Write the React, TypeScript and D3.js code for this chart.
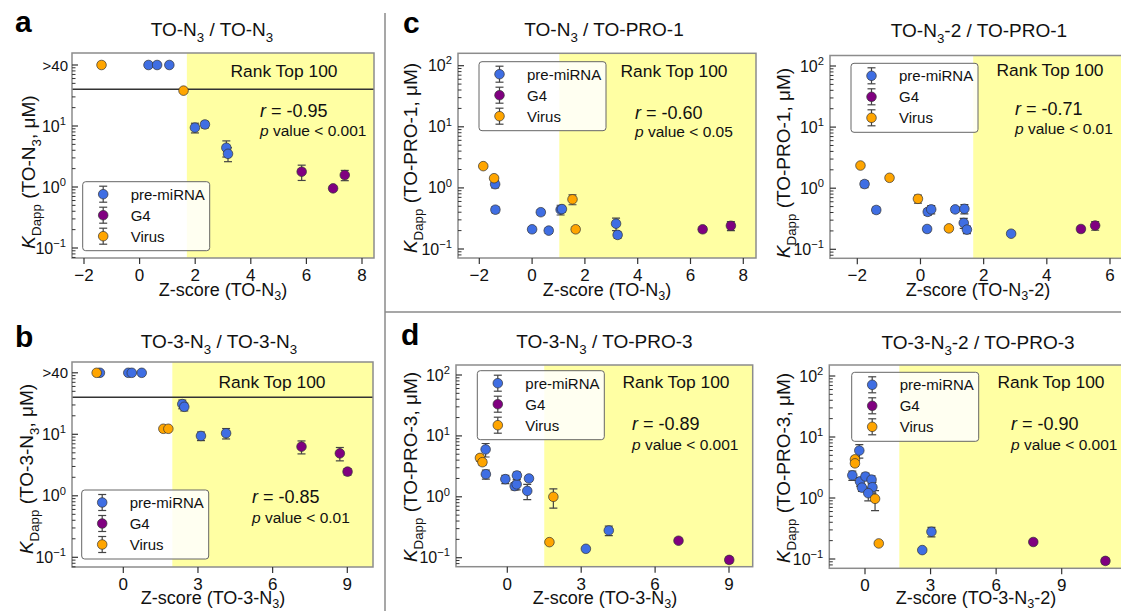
import React, { useRef, useEffect } from "react";
import * as d3 from "d3";

const W = 1121;
const H = 611;
const FONT = "'Liberation Sans', Arial, sans-serif";

const categories = ["pre-miRNA", "G4", "Virus"];
const colors = ["#3f6ee3", "#800080", "#ffa500"];

// [Z-score, KDapp (µM), error]; 100 stands for ">40"
const aPre = [[0.32, 100, 0], [0.63, 100, 0], [1.07, 100, 0], [1.99, 9.4, 1.7], [2.35, 10.6, 1.3], [3.12, 4.4, 1.3], [3.18, 3.5, 0.9]];
const aG4 = [[5.83, 1.78, 0.5], [6.96, 0.95, 0.08], [7.38, 1.57, 0.3]];
const aVirus = [[-1.37, 100, 0], [1.58, 38, 0]];

const bPre = [[-0.94, 100, 0], [0.2, 100, 0], [0.34, 100, 0], [0.74, 100, 0], [2.37, 31, 5], [2.45, 28, 4], [3.12, 9.4, 1.5], [4.13, 10.4, 2]];
const bG4 = [[7.16, 6.3, 1.5], [8.7, 4.9, 1.2], [9.01, 2.47, 0.3]];
const bVirus = [[-1.07, 100, 0], [1.61, 12.3, 0], [1.81, 12.3, 0]];

const cPre = [[-1.4, 1.15, 0.15], [-1.39, 0.44, 0.05], [0, 0.21, 0.02], [0.33, 0.4, 0.04], [0.63, 0.2, 0.02], [1.08, 0.44, 0.08], [1.13, 0.45, 0.05], [3.18, 0.26, 0.06], [3.24, 0.17, 0.02]];
const cG4 = [[6.46, 0.21, 0.02], [7.53, 0.24, 0.04]];
const cVirus = [[-1.85, 2.27, 0.15], [-1.44, 1.44, 0.1], [1.53, 0.65, 0.12], [1.65, 0.21, 0.02]];

const ePre = [[-1.77, 1.17, 0.15], [-1.4, 0.44, 0.05], [0.23, 0.41, 0.05], [0.34, 0.45, 0.07], [0.21, 0.215, 0.02], [1.1, 0.45, 0.05], [1.39, 0.46, 0.08], [1.37, 0.27, 0.05], [1.47, 0.21, 0.03], [2.87, 0.18, 0.01]];
const eG4 = [[5.08, 0.215, 0.02], [5.53, 0.245, 0.04]];
const eVirus = [[-1.9, 2.35, 0.15], [-0.98, 1.48, 0.1], [-0.08, 0.67, 0.1], [0.9, 0.22, 0.02]];

const dPre = [[-0.88, 6.0, 1.5], [-0.87, 2.35, 0.4], [-0.08, 1.95, 0.3], [0.3, 1.5, 0.2], [0.38, 1.6, 0.3], [0.39, 2.24, 0.3], [0.88, 2.0, 0.2], [0.81, 1.25, 0.35], [3.19, 0.14, 0.01], [4.12, 0.28, 0.05]];
const dG4 = [[6.95, 0.19, 0.01], [9.01, 0.092, 0.01]];
const dVirus = [[-1.11, 4.35, 0.5], [-1.01, 3.7, 0.4], [1.87, 1.0, 0.35], [1.71, 0.18, 0.01]];

const fPre = [[-0.26, 6.0, 1.5], [-0.58, 2.35, 0.4], [-0.23, 1.87, 0.3], [-0.14, 1.48, 0.2], [0.02, 2.25, 0.3], [0.3, 2.0, 0.3], [0.34, 1.5, 0.3], [0.15, 1.2, 0.3], [2.62, 0.14, 0.01], [3.04, 0.28, 0.05]];
const fG4 = [[7.7, 0.19, 0.01], [11.0, 0.093, 0.01]];
const fVirus = [[-0.46, 4.3, 0.5], [-0.46, 3.7, 0.4], [0.46, 0.97, 0.35], [0.63, 0.18, 0.01]];

const ticksEven = [-2, 0, 2, 4, 6, 8];
const ticksE = [-2, 0, 2, 4, 6];
const ticks3 = [0, 3, 6, 9];

// layout: plot box, two x anchors, two y anchors
const panels = [
  { letter: "a", lp: [15, 32], title: "TO-N_3 / TO-N_3", tp: [212, 36], box: [72, 374, 53, 258],
    xa: [-2, 8, 84, 362], ya: [0.1, 10, 248, 126], xticks: ticksEven, cut: 40, zone: 1.7,
    xlab: "Z-score (TO-N_3)", xlp: [223, 296], ylab: "*K*_{Dapp} (TO-N_3, μM)", ylp: [35, 172],
    leg: [82.7, 181.7], rank: [284, 77], rp: [260, 117, 136], r: "-0.95", p: "0.001", data: [aPre, aG4, aVirus] },
  { letter: "b", lp: [15, 347], title: "TO-3-N_3 / TO-3-N_3", tp: [219, 348], box: [72, 373, 362, 567],
    xa: [0, 9, 123.3, 347.3], ya: [0.1, 10, 557.3, 434.3], xticks: ticks3, cut: 40, zone: 1.97,
    xlab: "Z-score (TO-3-N_3)", xlp: [213, 604], ylab: "*K*_{Dapp} (TO-3-N_3, μM)", ylp: [33, 469],
    leg: [81.7, 490], rank: [272, 388], rp: [252, 503, 523], r: "-0.85", p: "0.01", data: [bPre, bG4, bVirus] },
  { letter: "c", lp: [403, 33], title: "TO-N_3 / TO-PRO-1", tp: [604, 36], box: [458, 756, 53.3, 258],
    xa: [-2, 8, 479.3, 743.3], ya: [0.1, 100, 249, 65.7], xticks: ticksEven, cut: 0, zone: 1.03,
    xlab: "Z-score (TO-N_3)", xlp: [607, 296], ylab: "*K*_{Dapp} (TO-PRO-1, μM)", ylp: [417, 158],
    leg: [479, 61.7], rank: [674, 77], rp: [635, 119, 137], r: "-0.60", p: "0.05", data: [cPre, cG4, cVirus] },
  { letter: "", lp: [0, 0], title: "TO-N_3-2 / TO-PRO-1", tp: [979, 37], box: [830, 1125, 55.5, 258.3],
    xa: [-2, 6, 857.3, 1110], ya: [0.1, 100, 249.3, 66], xticks: ticksE, cut: 0, zone: 1.67,
    xlab: "Z-score (TO-N_3-2)", xlp: [978, 296], ylab: "*K*_{Dapp} (TO-PRO-1, μM)", ylp: [790, 163],
    leg: [851, 63.3], rank: [1050, 76], rp: [1015, 115, 134], r: "-0.71", p: "0.01", data: [ePre, eG4, eVirus] },
  { letter: "d", lp: [401, 345], title: "TO-3-N_3 / TO-PRO-3", tp: [604.5, 348], box: [456, 752.7, 365, 566.7],
    xa: [0, 9, 507.3, 729], ya: [0.1, 100, 557.7, 375], xticks: ticks3, cut: 0, zone: 1.5,
    xlab: "Z-score (TO-3-N_3)", xlp: [605, 604], ylab: "*K*_{Dapp} (TO-PRO-3, μM)", ylp: [417, 467],
    leg: [477.3, 370.7], rank: [676, 388], rp: [632, 430, 450], r: "-0.89", p: "0.001", data: [dPre, dG4, dVirus] },
  { letter: "", lp: [0, 0], title: "TO-3-N_3-2 / TO-PRO-3", tp: [978, 349], box: [829.3, 1125, 365, 568.3],
    xa: [0, 9, 865, 1061.7], ya: [0.1, 100, 559, 376], xticks: ticks3, cut: 0, zone: 1.57,
    xlab: "Z-score (TO-3-N_3-2)", xlp: [976, 604], ylab: "*K*_{Dapp} (TO-PRO-3, μM)", ylp: [790, 468],
    leg: [851.7, 372.3], rank: [1051, 388], rp: [1011, 430, 450], r: "-0.90", p: "0.001", data: [fPre, fG4, fVirus] },
];

type Seg = { t: string; sub?: boolean; sup?: boolean; it?: boolean };

// "_x" / "_{xy}" subscript, "^x" superscript, "*x*" italic
function parse(s: string): Seg[] {
  const out: Seg[] = [];
  let buf = "";
  let it = false;
  const flush = () => { if (buf) out.push({ t: buf, it }); buf = ""; };
  for (let i = 0; i < s.length; i++) {
    const ch = s[i];
    if (ch === "*") { flush(); it = !it; continue; }
    if (ch === "_" || ch === "^") {
      flush();
      let t = "";
      if (s[i + 1] === "{") {
        const j = s.indexOf("}", i);
        t = s.slice(i + 2, j);
        i = j;
      } else {
        t = s[i + 1];
        i++;
      }
      out.push(ch === "_" ? { t, sub: true } : { t, sup: true });
      continue;
    }
    buf += ch;
  }
  flush();
  return out;
}

function rich(text: any, str: string, fs: number, subShift = 0.3) {
  let shift = 0;
  for (const seg of parse(str)) {
    const want = seg.sub ? fs * subShift : seg.sup ? -fs * 0.42 : 0;
    const ts = text.append("tspan").text(seg.t).attr("dy", want - shift);
    if (seg.sub || seg.sup) ts.attr("font-size", fs * 0.7);
    if (seg.it) ts.attr("font-style", "italic");
    shift = want;
  }
}

export default function App() {
  const svgRef = useRef<SVGSVGElement>(null);

  useEffect(() => {
    const svg = d3.select(svgRef.current);
    svg.selectAll("*").remove();
    svg.append("rect").attr("width", W).attr("height", H).attr("fill", "#fff");

    // panel dividers
    svg.append("line").attr("x1", 385).attr("x2", 385).attr("y1", 13).attr("y2", H)
      .attr("stroke", "#8a8a8a").attr("stroke-width", 1.5);
    svg.append("line").attr("x1", 385).attr("x2", W).attr("y1", 312).attr("y2", 312)
      .attr("stroke", "#8a8a8a").attr("stroke-width", 1.5);

    panels.forEach((p, pi) => {
      const [x0, x1, y0, y1] = p.box;
      const g = svg.append("g").attr("font-family", FONT);
      const clipId = "clip" + pi;
      g.append("clipPath").attr("id", clipId).append("rect")
        .attr("x", x0).attr("y", y0).attr("width", x1 - x0).attr("height", y1 - y0);

      const x = d3.scaleLinear().domain([p.xa[0], p.xa[1]]).range([p.xa[2], p.xa[3]]);
      const y = d3.scaleLog().domain([p.ya[0], p.ya[1]]).range([p.ya[2], p.ya[3]]);

      const plot = g.append("g").attr("clip-path", `url(#${clipId})`);
      plot.append("rect").attr("x", x0).attr("y", y0).attr("width", x1 - x0).attr("height", y1 - y0).attr("fill", "#fff");
      plot.append("rect").attr("x", x(p.zone)).attr("y", y0).attr("width", x1 - x(p.zone)).attr("height", y1 - y0)
        .attr("fill", "#ffffa3");
      if (p.cut) {
        plot.append("line").attr("x1", x0).attr("x2", x1).attr("y1", y(p.cut)).attr("y2", y(p.cut))
          .attr("stroke", "#333").attr("stroke-width", 1.4);
      }

      // error bars then points
      p.data.forEach((series) => {
        series.forEach(([vx, vy, e]) => {
          if (!e) return;
          const cx = x(vx);
          const top = y(vy + e);
          const bot = y(Math.max(vy - e, 1e-3));
          const eb = plot.append("g").attr("stroke", "#444").attr("stroke-width", 1.2);
          eb.append("line").attr("x1", cx).attr("x2", cx).attr("y1", top).attr("y2", bot);
          eb.append("line").attr("x1", cx - 4).attr("x2", cx + 4).attr("y1", top).attr("y2", top);
          eb.append("line").attr("x1", cx - 4).attr("x2", cx + 4).attr("y1", bot).attr("y2", bot);
        });
      });
      p.data.forEach((series, si) => {
        plot.selectAll(null).data(series).enter().append("circle")
          .attr("cx", (d) => x(d[0])).attr("cy", (d) => y(d[1])).attr("r", 4.8)
          .attr("fill", colors[si]).attr("stroke", "#333").attr("stroke-width", 0.7);
      });

      // frame
      g.append("rect").attr("x", x0).attr("y", y0).attr("width", x1 - x0).attr("height", y1 - y0)
        .attr("fill", "none").attr("stroke", "#8c8c8c").attr("stroke-width", 1.5);

      // x axis ticks
      p.xticks.forEach((t) => {
        const tx = x(t);
        g.append("line").attr("x1", tx).attr("x2", tx).attr("y1", y1).attr("y2", y1 + 6)
          .attr("stroke", "#333").attr("stroke-width", 1.2);
        g.append("text").attr("x", tx).attr("y", y1 + 23).attr("text-anchor", "middle")
          .attr("font-size", 17).attr("fill", "#111").text(t < 0 ? "\u2212" + Math.abs(t) : String(t));
      });

      // y axis ticks (log)
      const [lo, hi] = [y.invert(y1), y.invert(y0)];
      const majors = [0.1, 1, 10, 100].filter((v) => v >= lo && v <= hi && (!p.cut || v < p.cut));
      const minors: number[] = [];
      for (let k = -2; k <= 2; k++) {
        for (let m = 2; m <= 9; m++) {
          const v = m * Math.pow(10, k);
          if (v < lo || v > hi) continue;
          if (p.cut && v > p.cut * 0.8 && v < 50) continue;
          minors.push(v);
        }
      }
      minors.forEach((v) => {
        g.append("line").attr("x1", x0).attr("x2", x0 + 3.5).attr("y1", y(v)).attr("y2", y(v))
          .attr("stroke", "#333").attr("stroke-width", 1);
      });
      majors.forEach((v) => {
        const ty = y(v);
        g.append("line").attr("x1", x0).attr("x2", x0 + 6).attr("y1", ty).attr("y2", ty)
          .attr("stroke", "#333").attr("stroke-width", 1.2);
        const e = Math.round(Math.log10(v));
        const lab = g.append("text").attr("x", x0 - 6).attr("y", ty + 5.5).attr("text-anchor", "end")
          .attr("font-size", 16).attr("fill", "#111");
        rich(lab, "10^{" + (e < 0 ? "\u2212" + Math.abs(e) : e) + "}", 16);
      });
      if (p.cut) {
        const ty = y(100);
        g.append("line").attr("x1", x0).attr("x2", x0 + 6).attr("y1", ty).attr("y2", ty)
          .attr("stroke", "#333").attr("stroke-width", 1.2);
        g.append("text").attr("x", x0 - 4).attr("y", ty + 5.5).attr("text-anchor", "end")
          .attr("font-size", 15).attr("fill", "#111").text(">40");
      }

      // legend
      const [lx, ly] = p.leg;
      g.append("rect").attr("x", lx).attr("y", ly).attr("width", 127).attr("height", 69).attr("rx", 3)
        .attr("fill", "#fff").attr("fill-opacity", 0.85).attr("stroke", "#666").attr("stroke-width", 1);
      categories.forEach((c, i) => {
        const ry = ly + [12.5, 33.5, 54.5][i];
        const mx = lx + 20.5;
        const eb = g.append("g").attr("stroke", "#444").attr("stroke-width", 1.2);
        eb.append("line").attr("x1", mx).attr("x2", mx).attr("y1", ry - 8).attr("y2", ry + 8);
        eb.append("line").attr("x1", mx - 4).attr("x2", mx + 4).attr("y1", ry - 8).attr("y2", ry - 8);
        eb.append("line").attr("x1", mx - 4).attr("x2", mx + 4).attr("y1", ry + 8).attr("y2", ry + 8);
        g.append("circle").attr("cx", mx).attr("cy", ry).attr("r", 4.8).attr("fill", colors[i])
          .attr("stroke", "#333").attr("stroke-width", 0.7);
        g.append("text").attr("x", lx + 48).attr("y", ry + 5.5).attr("font-size", 15).attr("fill", "#111").text(c);
      });

      // annotations
      g.append("text").attr("x", p.rank[0]).attr("y", p.rank[1]).attr("text-anchor", "middle")
        .attr("font-size", 17.4).attr("fill", "#111").text("Rank Top 100");
      const rt = g.append("text").attr("x", p.rp[0]).attr("y", p.rp[1]).attr("font-size", 18).attr("fill", "#111");
      rt.append("tspan").attr("font-style", "italic").text("r");
      rt.append("tspan").text(" = " + p.r);
      const pt = g.append("text").attr("x", p.rp[0]).attr("y", p.rp[2]).attr("font-size", 15.5).attr("fill", "#111");
      pt.append("tspan").attr("font-style", "italic").text("p");
      pt.append("tspan").text(" value < " + p.p);

      // titles and axis labels
      const tt = g.append("text").attr("x", p.tp[0]).attr("y", p.tp[1]).attr("text-anchor", "middle")
        .attr("font-size", 19).attr("fill", "#111");
      rich(tt, p.title, 19);
      const xl = g.append("text").attr("x", p.xlp[0]).attr("y", p.xlp[1]).attr("text-anchor", "middle")
        .attr("font-size", 18).attr("fill", "#111");
      rich(xl, p.xlab, 18, 0.22);
      const yl = g.append("text").attr("text-anchor", "middle").attr("font-size", 19).attr("fill", "#111")
        .attr("transform", `translate(${p.ylp[0]},${p.ylp[1]}) rotate(-90)`);
      rich(yl, p.ylab, 19);

      if (p.letter) {
        g.append("text").attr("x", p.lp[0]).attr("y", p.lp[1]).attr("font-size", 30)
          .attr("font-weight", "bold").attr("fill", "#000").text(p.letter);
      }
    });
  }, []);

  return (
    <svg ref={svgRef} width={W} height={H}
      style={{ position: "absolute", left: 0, top: 0, display: "block" }} />
  );
}
